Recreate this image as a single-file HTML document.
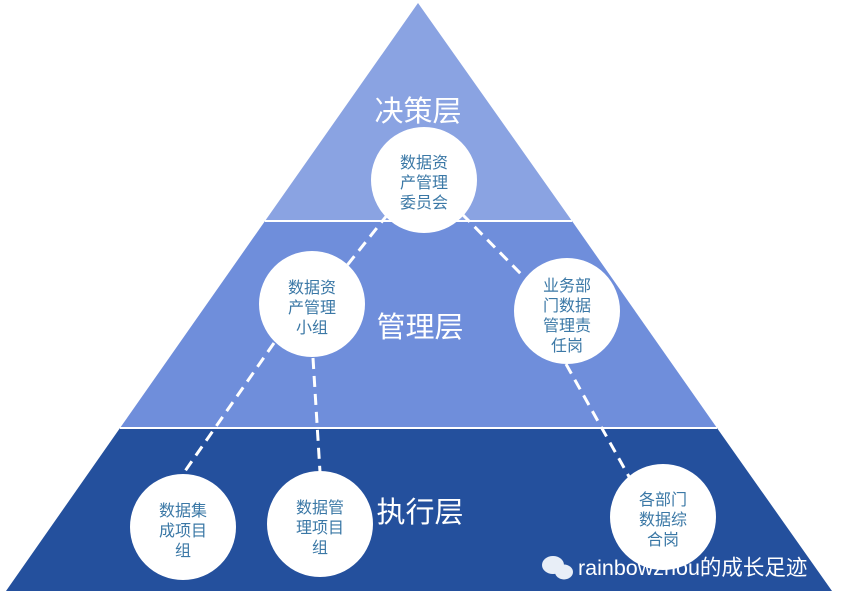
<!DOCTYPE html>
<html><head><meta charset="utf-8"><style>
html,body{margin:0;padding:0;background:#fff;}
svg{display:block;}
text{font-family:"Liberation Sans","Noto Sans CJK SC",sans-serif;}
</style></head><body>
<svg width="842" height="604" viewBox="0 0 842 604" xmlns="http://www.w3.org/2000/svg">
<rect width="842" height="604" fill="#fff"/>
<polygon points="418,3 265,221 572,221" fill="#8aa3e2"/>
<polygon points="265,221 572,221 717,428 120,428" fill="#6f8edb"/>
<polygon points="120,428 717,428 832,591 6,591" fill="#24509d"/>
<line x1="265" y1="221" x2="572" y2="221" stroke="#fff" stroke-width="2"/>
<line x1="120" y1="428" x2="717" y2="428" stroke="#fff" stroke-width="2"/>
<g stroke="#fff" stroke-width="3" stroke-dasharray="11,7" fill="none">
<line x1="388" y1="214" x2="345" y2="268"/>
<line x1="462" y1="214" x2="525" y2="278"/>
<line x1="274" y1="343" x2="183" y2="474"/>
<line x1="313" y1="358" x2="320" y2="472"/>
<line x1="566" y1="364" x2="632" y2="482"/>
</g>
<g fill="#fff">
<circle cx="424" cy="180" r="53"/>
<circle cx="312" cy="304" r="53"/>
<circle cx="567" cy="311" r="53"/>
<circle cx="183" cy="527" r="53"/>
<circle cx="320" cy="524" r="53"/>
<circle cx="663" cy="517" r="53"/>
</g>
<g fill="#fff" font-size="29" text-anchor="middle">
<text x="418" y="121">决策层</text>
<text x="420" y="337">管理层</text>
<text x="420" y="522">执行层</text>
</g>
<g fill="#3b78a6" font-size="16" text-anchor="middle">
<text x="424" y="168">数据资</text><text x="424" y="188">产管理</text><text x="424" y="208">委员会</text>
<text x="312" y="293">数据资</text><text x="312" y="313">产管理</text><text x="312" y="333">小组</text>
<text x="567" y="291">业务部</text><text x="567" y="311">门数据</text><text x="567" y="331">管理责</text><text x="567" y="351">任岗</text>
<text x="183" y="516">数据集</text><text x="183" y="536">成项目</text><text x="183" y="556">组</text>
<text x="320" y="513">数据管</text><text x="320" y="533">理项目</text><text x="320" y="553">组</text>
<text x="663" y="505">各部门</text><text x="663" y="525">数据综</text><text x="663" y="545">合岗</text>
</g>
<g fill="#e8eef7">
<ellipse cx="553" cy="565" rx="11" ry="9"/>
<ellipse cx="564" cy="572" rx="9" ry="7.5"/>
</g>
<text x="578" y="575" fill="#fff" font-size="21.5">rainbowzhou的成长足迹</text>
</svg>
</body></html>
